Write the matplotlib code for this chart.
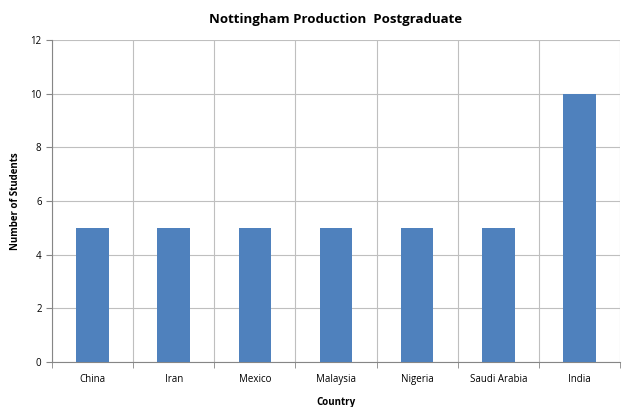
import matplotlib.pyplot as plt
import numpy as np

countries = ['China', 'Iran', 'Mexico', 'Malaysia', 'Nigeria', 'Saudi Arabia', 'India']
students = [5, 5, 5, 5, 5, 5, 10]
y_ticks = [0, 2, 4, 6, 8, 10, 12]

plt.rcParams['font.family'] = ['Open Sans', 'DejaVu Sans']

fig = plt.figure(figsize=(6.24, 4.07), dpi=100)
ax = fig.add_axes([0.0833, 0.1106, 0.9103, 0.7911])

x = np.arange(len(countries))
ax.bar(x, students, width=0.4, color='#4F81BD', zorder=3)

ax.set_xlim(-0.5, len(countries) - 0.5)
ax.set_ylim(0, 12)
ax.set_yticks(y_ticks)
ax.set_xticks(x)
ax.set_xticklabels(countries, fontsize=7)
ax.tick_params(axis='y', labelsize=7, length=4, color='#868686')
ax.tick_params(axis='x', length=0, pad=9)

# category boundary lines / ticks
bounds = np.arange(-0.5, len(countries), 1)
ax.set_xticks(bounds, minor=True)
ax.tick_params(axis='x', which='minor', length=4, color='#868686')
ax.grid(True, which='minor', axis='x', color='#BFBFBF', linewidth=0.8, zorder=0)
ax.grid(True, which='major', axis='y', color='#BFBFBF', linewidth=0.8, zorder=0)

for side in ['top', 'right']:
    ax.spines[side].set_visible(False)
ax.spines['left'].set_color('#868686')
ax.spines['bottom'].set_color('#868686')

ax.set_title('Nottingham Production  Postgraduate', fontsize=9.5, fontweight='bold', pad=12)
ax.set_xlabel('Country', fontsize=7, fontweight='bold', labelpad=8)
ax.set_ylabel('Number of Students', fontsize=7, fontweight='bold', labelpad=7)

fig.savefig('out.png', dpi=100)
